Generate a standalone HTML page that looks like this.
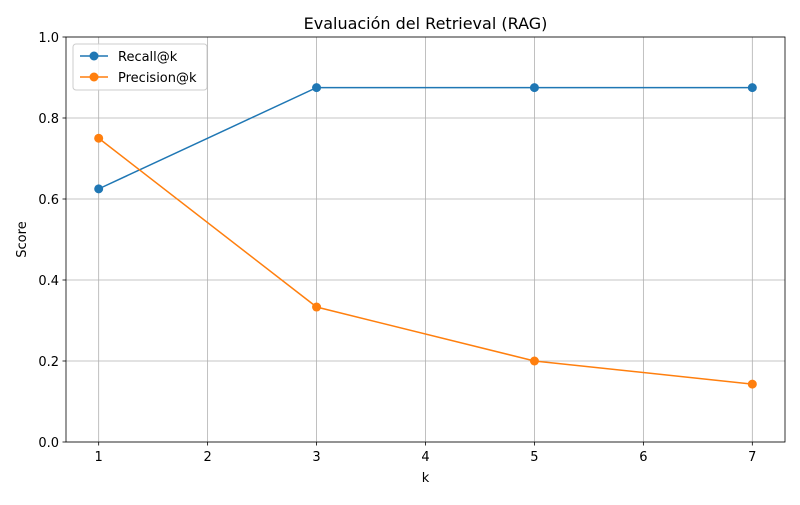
<!DOCTYPE html>
<html><head><meta charset="utf-8"><style>
body{margin:0;background:#fff;font-family:"Liberation Sans","DejaVu Sans",sans-serif;}
svg text{font-family:"DejaVu Sans","Liberation Sans",sans-serif;}
</style></head><body>
<svg id="chart" width="800" height="500" xmlns="http://www.w3.org/2000/svg">
<rect width="800" height="500" fill="#fff"/>
<g id="grid"></g>
<g id="axes"></g>
<g id="series"></g>
<text x="425.5" y="29" font-size="16" text-anchor="middle">Evaluación del Retrieval (RAG)</text>
<text x="425.5" y="482" font-size="13" text-anchor="middle">k</text>
<text x="26" y="239.5" font-size="13" text-anchor="middle" transform="rotate(-90 26 239.5)">Score</text>
<g>
<rect x="73" y="44" width="134" height="46" rx="3" fill="#fff" fill-opacity="0.8" stroke="#ccc"/>
<g>
<line x1="80" y1="56" x2="108" y2="56" stroke="#1f77b4" stroke-width="1.5"/><circle cx="94" cy="56" r="4.5" fill="#1f77b4"/>
<text x="118" y="61" font-size="13">Recall@k</text></g>
<g>
<line x1="80" y1="77" x2="108" y2="77" stroke="#ff7f0e" stroke-width="1.5"/><circle cx="94" cy="77" r="4.5" fill="#ff7f0e"/>
<text x="118" y="82" font-size="13">Precision@k</text></g>
</g>
</svg>
<script>
const kValues=[1,3,5,7];
const recall=[0.625,0.875,0.875,0.875];
const precision=[0.75,0.3333,0.2,0.1429];
const xTicks=[1,2,3,4,5,6,7];
const yTicks=[0,0.2,0.4,0.6,0.8,1.0];
const L=66,R=785,T=37,B=442,xmin=0.7,xmax=7.3;
const sx=v=>L+(v-xmin)/(xmax-xmin)*(R-L);
const sy=v=>B-v*(B-T);
const NS="http://www.w3.org/2000/svg";
function mk(tag,attrs,parent){const e=document.createElementNS(NS,tag);for(const k in attrs)e.setAttribute(k,attrs[k]);parent.appendChild(e);return e;}
const grid=document.getElementById('grid'),axes=document.getElementById('axes'),series=document.getElementById('series');
xTicks.forEach(t=>{
 const g=mk('line',{x1:sx(t),x2:sx(t),y1:T,y2:B,stroke:'#b0b0b0','stroke-width':0.8},grid);
 
 
 mk('line',{x1:sx(t),x2:sx(t),y1:B,y2:B+3.5,stroke:'#000','stroke-width':0.8},axes);
 const tx=mk('text',{x:sx(t),y:B+19,'font-size':13,'text-anchor':'middle'},axes);tx.textContent=t;
 
 
});
yTicks.forEach(t=>{
 const g=mk('line',{x1:L,x2:R,y1:sy(t),y2:sy(t),stroke:'#b0b0b0','stroke-width':0.8},grid);
 
 
 mk('line',{x1:L-3.5,x2:L,y1:sy(t),y2:sy(t),stroke:'#000','stroke-width':0.8},axes);
 const tx=mk('text',{x:L-7,y:sy(t)+5,'font-size':13,'text-anchor':'end'},axes);tx.textContent=t.toFixed(1);
 
 
});
const fr=mk('rect',{x:L,y:T,width:R-L,height:B-T,fill:'none',stroke:'#000','stroke-width':0.8},axes);


function draw(vals,color,name){
 const p=mk('polyline',{points:kValues.map((k,i)=>sx(k)+','+sy(vals[i])).join(' '),fill:'none',stroke:color,'stroke-width':1.5},series);
 
 
 kValues.forEach((k,i)=>{
  const c=mk('circle',{cx:sx(k),cy:sy(vals[i]),r:4.5,fill:color},series);
  
  
 });
}
draw(recall,'#1f77b4','recall');
draw(precision,'#ff7f0e','precision');
</script>
</body></html>
